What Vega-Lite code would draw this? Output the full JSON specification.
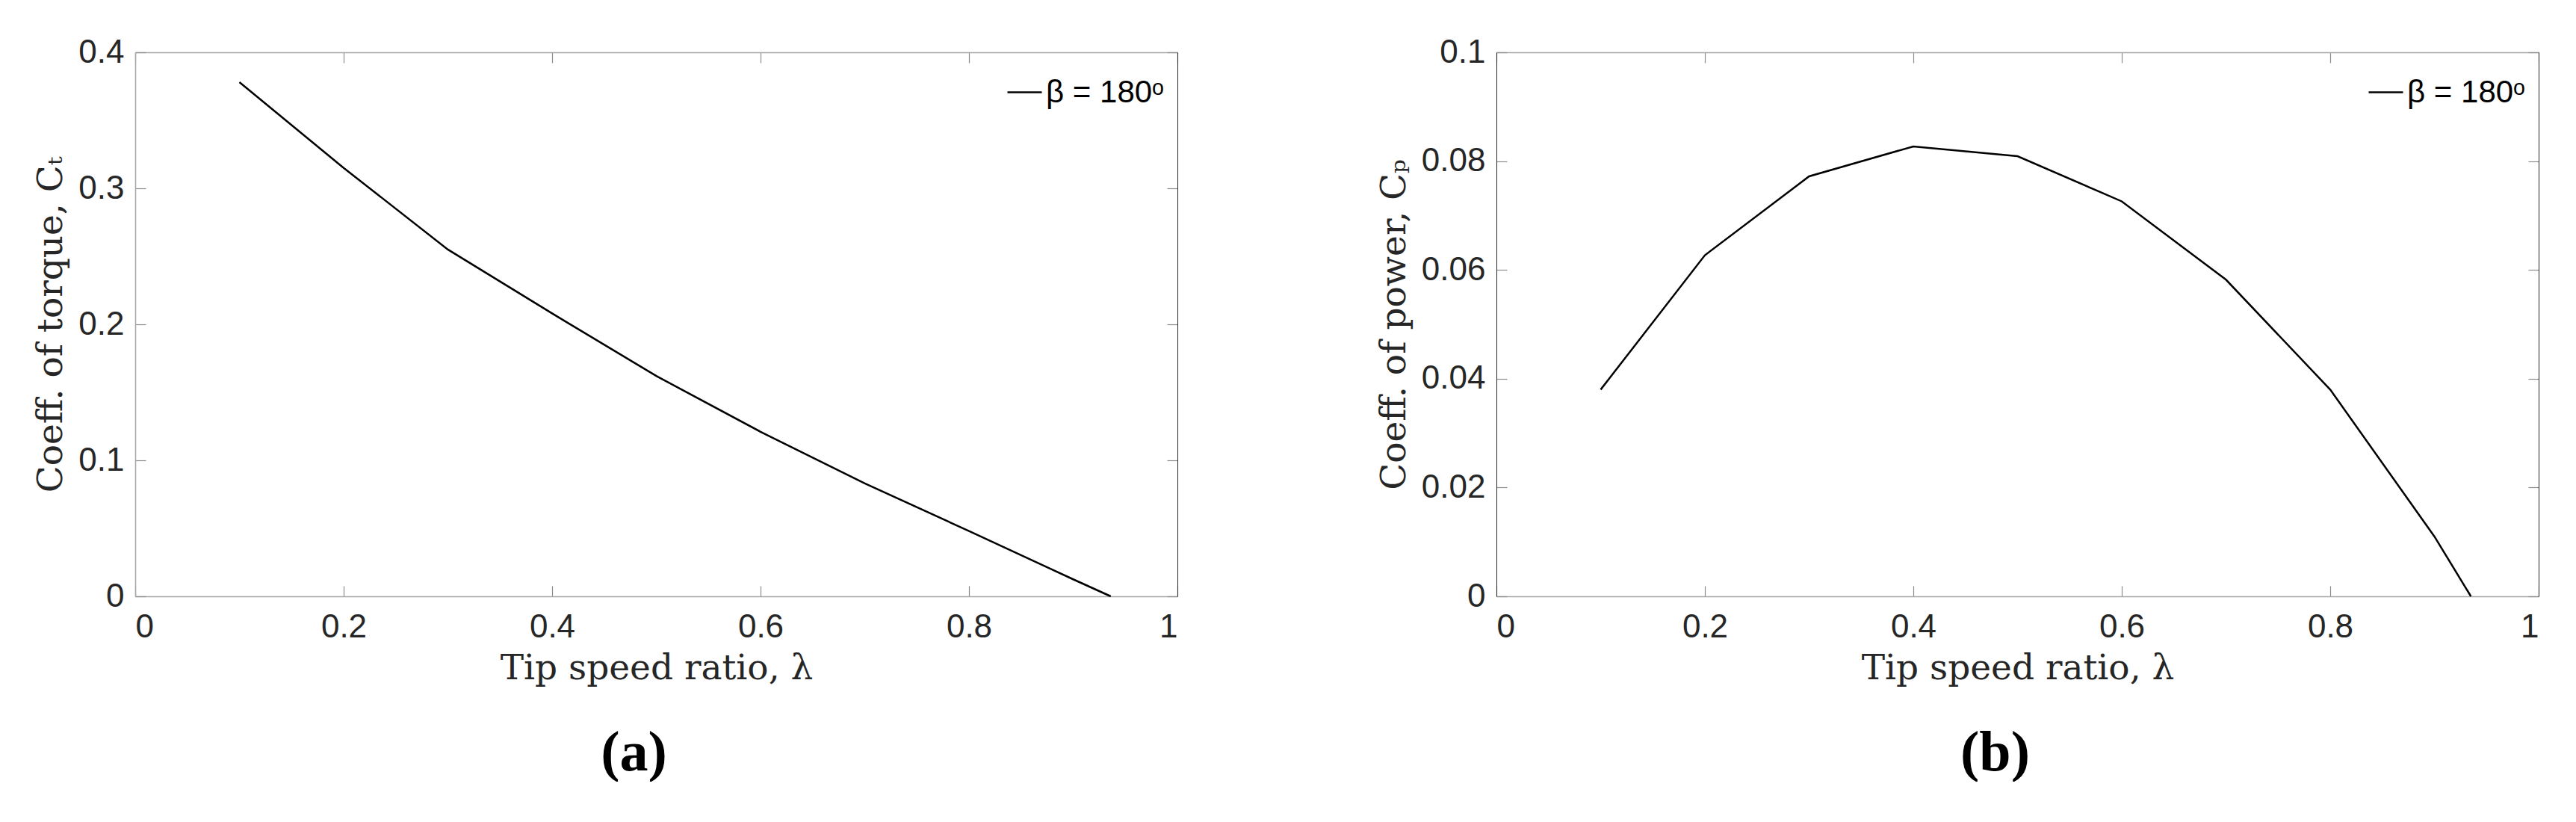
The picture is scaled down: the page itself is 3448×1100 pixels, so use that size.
{
  "$schema": "https://vega.github.io/schema/vega-lite/v6.json",
  "background": "white",
  "padding": {"left": 44, "top": 48, "right": 0, "bottom": 0},
  "spacing": 265,
  "config": {
    "view": {"stroke": null},
    "axis": {
      "grid": false,
      "labelFont": "Liberation Sans",
      "labelFontSize": 44,
      "labelColor": "#262626",
      "titleFont": "DejaVu Serif",
      "titleFontSize": 47,
      "titleFontWeight": "normal",
      "titleColor": "#262626",
      "domainColor": "#a6a6a6",
      "domainWidth": 1.5,
      "tickColor": "#8c8c8c",
      "tickSize": -14,
      "tickWidth": 1.2,
      "format": "~g"
    },
    "axisX": {"labelPadding": 33},
    "axisY": {"labelPadding": 29},
    "legend": {
      "labelFont": "Liberation Sans",
      "labelFontSize": 42,
      "labelColor": "black",
      "symbolType": "stroke",
      "symbolStrokeWidth": 2.5,
      "symbolStrokeColor": "black",
      "symbolSize": 2116,
      "labelOffset": 4,
      "padding": 0,
      "title": null
    }
  },
  "datasets": {
    "ct": [
      {"tsr": 0.1, "ct": 0.378, "series": "β = 180ᵒ"},
      {"tsr": 0.2, "ct": 0.315, "series": "β = 180ᵒ"},
      {"tsr": 0.3, "ct": 0.255, "series": "β = 180ᵒ"},
      {"tsr": 0.4, "ct": 0.208, "series": "β = 180ᵒ"},
      {"tsr": 0.5, "ct": 0.162, "series": "β = 180ᵒ"},
      {"tsr": 0.6, "ct": 0.121, "series": "β = 180ᵒ"},
      {"tsr": 0.7, "ct": 0.083, "series": "β = 180ᵒ"},
      {"tsr": 0.8, "ct": 0.048, "series": "β = 180ᵒ"},
      {"tsr": 0.9, "ct": 0.0125, "series": "β = 180ᵒ"},
      {"tsr": 0.936, "ct": 0, "series": "β = 180ᵒ"}
    ],
    "cp": [
      {"tsr": 0.1, "cp": 0.038, "series": "β = 180ᵒ"},
      {"tsr": 0.2, "cp": 0.0627, "series": "β = 180ᵒ"},
      {"tsr": 0.3, "cp": 0.0772, "series": "β = 180ᵒ"},
      {"tsr": 0.4, "cp": 0.0827, "series": "β = 180ᵒ"},
      {"tsr": 0.5, "cp": 0.0809, "series": "β = 180ᵒ"},
      {"tsr": 0.6, "cp": 0.0726, "series": "β = 180ᵒ"},
      {"tsr": 0.7, "cp": 0.0582, "series": "β = 180ᵒ"},
      {"tsr": 0.8, "cp": 0.038, "series": "β = 180ᵒ"},
      {"tsr": 0.9, "cp": 0.011, "series": "β = 180ᵒ"},
      {"tsr": 0.935, "cp": 0, "series": "β = 180ᵒ"}
    ]
  },
  "hconcat": [
    {
      "width": 1395,
      "height": 728,
      "data": {"name": "ct"},
      "title": {"text": "(a)", "orient": "bottom", "font": "Liberation Serif", "fontWeight": "bold", "fontSize": 76, "color": "black", "anchor": "middle", "frame": "group", "offset": 54, "dx": -30},
      "layer": [
        {
          "mark": {"type": "line", "strokeWidth": 2.5},
          "encoding": {
            "x": {"field": "tsr", "type": "quantitative", "scale": {"domain": [0, 1], "nice": false, "zero": false},
                  "axis": {"orient": "bottom", "values": [0, 0.2, 0.4, 0.6, 0.8, 1], "title": "Tip speed ratio, λ", "titlePadding": 10}},
            "y": {"field": "ct", "type": "quantitative", "scale": {"domain": [0, 0.4], "nice": false},
                  "axis": {"orient": "left", "values": [0, 0.1, 0.2, 0.3, 0.4], "title": "Coeff. of torque, Cₜ", "titlePadding": 12}},
            "color": {"field": "series", "type": "nominal", "scale": {"range": ["black"]}, "legend": {"orient": "none", "legendX": 1166, "legendY": 29}}
          }
        },
        {
          "mark": {"type": "line", "opacity": 0},
          "encoding": {
            "x": {"field": "tsr", "type": "quantitative", "scale": {"domain": [0, 1], "nice": false, "zero": false},
                  "axis": {"orient": "top", "values": [0, 0.2, 0.4, 0.6, 0.8, 1], "labels": false, "title": null}},
            "y": {"field": "ct", "type": "quantitative", "scale": {"domain": [0, 0.4], "nice": false},
                  "axis": {"orient": "right", "values": [0, 0.1, 0.2, 0.3, 0.4], "labels": false, "title": null, "domainColor": "#262626", "domainWidth": 1}}
          }
        }
      ],
      "resolve": {"axis": {"x": "independent", "y": "independent"}}
    },
    {
      "width": 1395,
      "height": 728,
      "data": {"name": "cp"},
      "title": {"text": "(b)", "orient": "bottom", "font": "Liberation Serif", "fontWeight": "bold", "fontSize": 76, "color": "black", "anchor": "middle", "frame": "group", "offset": 54, "dx": -30},
      "layer": [
        {
          "mark": {"type": "line", "strokeWidth": 2.5},
          "encoding": {
            "x": {"field": "tsr", "type": "quantitative", "scale": {"domain": [0, 1], "nice": false, "zero": false},
                  "axis": {"orient": "bottom", "values": [0, 0.2, 0.4, 0.6, 0.8, 1], "title": "Tip speed ratio, λ", "titlePadding": 10}},
            "y": {"field": "cp", "type": "quantitative", "scale": {"domain": [0, 0.1], "nice": false},
                  "axis": {"orient": "left", "values": [0, 0.02, 0.04, 0.06, 0.08, 0.1], "title": "Coeff. of power, Cₚ", "titlePadding": 12, "domainColor": "#262626", "domainWidth": 1}},
            "color": {"field": "series", "type": "nominal", "scale": {"range": ["black"]}, "legend": {"orient": "none", "legendX": 1166, "legendY": 29}}
          }
        },
        {
          "mark": {"type": "line", "opacity": 0},
          "encoding": {
            "x": {"field": "tsr", "type": "quantitative", "scale": {"domain": [0, 1], "nice": false, "zero": false},
                  "axis": {"orient": "top", "values": [0, 0.2, 0.4, 0.6, 0.8, 1], "labels": false, "title": null}},
            "y": {"field": "cp", "type": "quantitative", "scale": {"domain": [0, 0.1], "nice": false},
                  "axis": {"orient": "right", "values": [0, 0.02, 0.04, 0.06, 0.08, 0.1], "labels": false, "title": null, "domainColor": "#262626", "domainWidth": 1}}
          }
        }
      ],
      "resolve": {"axis": {"x": "independent", "y": "independent"}}
    }
  ],
  "resolve": {"scale": {"color": "independent"}}
}
